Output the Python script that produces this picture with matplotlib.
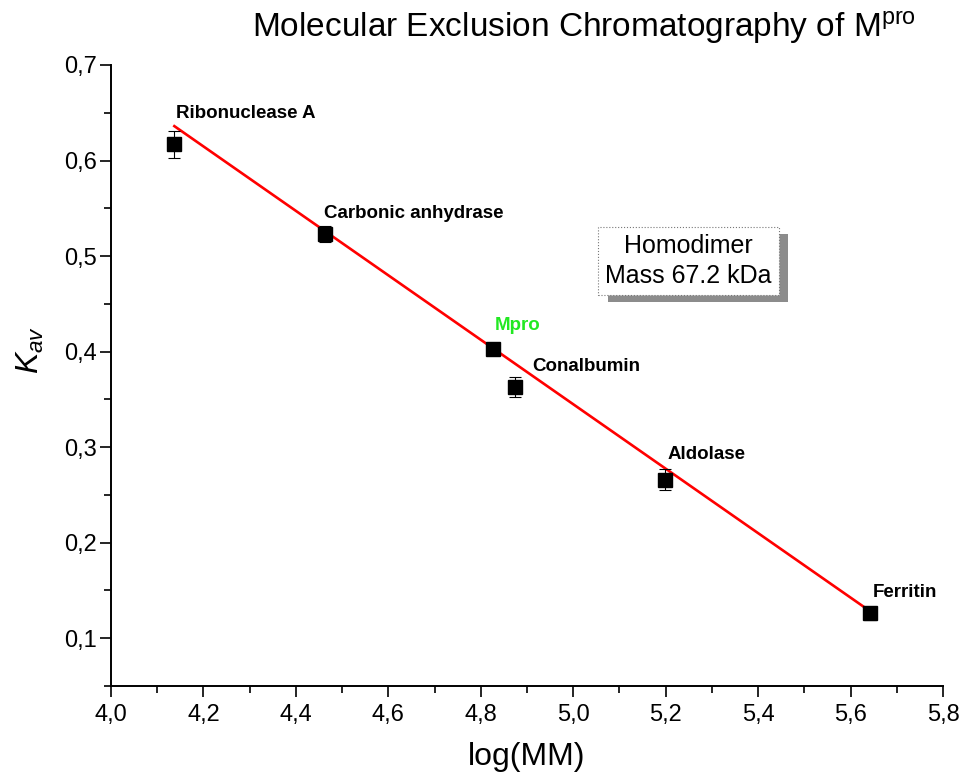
import matplotlib
matplotlib.use("Agg")
import matplotlib.pyplot as plt
from matplotlib.patches import Rectangle
from matplotlib.ticker import MultipleLocator, FuncFormatter

plt.rcParams['font.family'] = ['Liberation Sans', 'DejaVu Sans']
plt.rcParams['mathtext.fontset'] = 'custom'
plt.rcParams['mathtext.rm'] = 'Liberation Sans'
plt.rcParams['mathtext.it'] = 'Liberation Sans:italic'

# standards (and the sample)
protein_names = ["Ribonuclease A", "Carbonic anhydrase", "Mpro", "Conalbumin", "Aldolase", "Ferritin"]
log_mm = [4.137, 4.462, 4.827, 4.875, 5.199, 5.643]
kav = [0.617, 0.523, 0.403, 0.363, 0.266, 0.126]
kav_err = [0.014, 0.008, 0.0, 0.010, 0.011, 0.007]
label_colors = ["black", "black", "#22e822", "black", "black", "black"]

# linear fit drawn in the figure (end points)
fit_x = [4.137, 5.643]
fit_y = [0.636, 0.128]

box_text = "Homodimer\nMass 67.2 kDa"

# label offsets in points (layout only)
label_offsets = [(1.4, 22), (-0.7, 15), (1.4, 16.5), (12, 14.4), (2, 18), (1.4, 15)]


def comma_fmt(v, pos):
    return ("%.1f" % v).replace(".", ",")


fig = plt.figure(figsize=(9.62, 7.8), dpi=100)
ax = fig.add_axes([0.1154, 0.1205, 0.8649, 0.7962])

ax.plot(fit_x, fit_y, color="red", lw=1.9, zorder=2)
ax.errorbar(log_mm, kav, yerr=kav_err, fmt="s", color="black", ms=9.5,
            ecolor="black", elinewidth=0.8, capsize=4, capthick=0.8, zorder=3)

for name, x, y, c, off in zip(protein_names, log_mm, kav, label_colors, label_offsets):
    ax.annotate(name, (x, y), xytext=off, textcoords="offset points",
                ha="left", va="center", fontsize=13.5, fontweight="bold", color=c)

ax.set_xlim(4.0, 5.8)
ax.set_ylim(0.05, 0.7)
ax.xaxis.set_major_locator(MultipleLocator(0.2))
ax.xaxis.set_minor_locator(MultipleLocator(0.1))
ax.yaxis.set_major_locator(MultipleLocator(0.1))
ax.yaxis.set_minor_locator(MultipleLocator(0.05))
ax.xaxis.set_major_formatter(FuncFormatter(comma_fmt))
ax.yaxis.set_major_formatter(FuncFormatter(comma_fmt))
ax.set_yticks([0.1, 0.2, 0.3, 0.4, 0.5, 0.6, 0.7])

for s in ["top", "right"]:
    ax.spines[s].set_visible(False)
for s in ["left", "bottom"]:
    ax.spines[s].set_linewidth(1.4)
ax.tick_params(which="major", direction="out", length=8, width=1.2, labelsize=17, pad=5)
ax.tick_params(which="minor", direction="out", length=5, width=1.2)
ax.tick_params(axis="y", which="major", pad=2)

# text box with shadow
ax.add_patch(Rectangle((0.5974, 0.6184), 0.2163, 0.1095, transform=ax.transAxes,
                       facecolor="#8c8c8c", edgecolor="none", zorder=4))
ax.add_patch(Rectangle((0.5853, 0.6296), 0.2176, 0.1095, transform=ax.transAxes,
                       facecolor="white", edgecolor="#777777", lw=0.8, ls=":", zorder=5))
ax.text(0.6935, 0.6844, box_text, transform=ax.transAxes, ha="center", va="center",
        fontsize=18, linespacing=1.3, zorder=6)

fig.text(584 / 962, 1 - 28 / 780, r"Molecular Exclusion Chromatography of M$^{\mathrm{pro}}$",
         ha="center", va="center", fontsize=24)
fig.text(527 / 962, 1 - 757 / 780, "log(MM)", ha="center", va="center", fontsize=23)
fig.text(30 / 962, 1 - 350 / 780, r"$K_{av}$", ha="center", va="center", rotation=90, fontsize=23)

fig.savefig("out.png", dpi=100)
